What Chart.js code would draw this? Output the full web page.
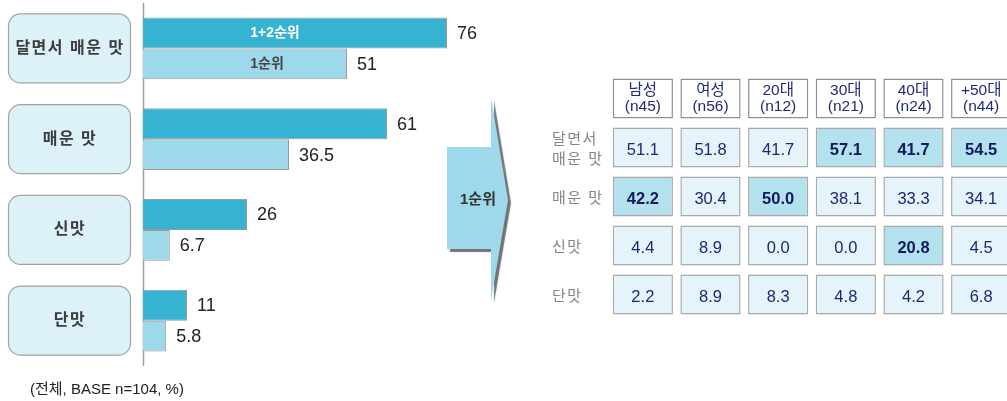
<!DOCTYPE html>
<html>
<head>
<meta charset="utf-8">
<script src="https://cdn.jsdelivr.net/npm/chart.js@4"></script>
<style>
  html, body { margin: 0; padding: 0; background: #fff; overflow: hidden; }
  #wrap { position: relative; width: 1007px; height: 401px; }
  #left { position: absolute; left: 0; top: 0; }
  #right { position: absolute; left: 520px; top: 0; }
</style>
</head>
<body>
<div id="wrap">
  <canvas id="left" width="540" height="401"></canvas>
  <canvas id="right" width="500" height="401"></canvas>
</div>
<script>
// left bar chart
const categories = ['달면서 매운 맛', '매운 맛', '신맛', '단맛'];
const rank12 = [76, 61, 26, 11];
const rank1 = [51, 36.5, 6.7, 5.8];
const seriesNames = ['1+2순위', '1순위'];
const footnote = '(전체, BASE n=104, %)';
const arrowLabel = '1순위';

// right table (1순위 by group)
const groups = ['남성', '여성', '20대', '30대', '40대', '+50대'];
const groupBase = ['(n45)', '(n56)', '(n12)', '(n21)', '(n24)', '(n44)'];
const rowLabels = [['달면서', '매운 맛'], ['매운 맛'], ['신맛'], ['단맛']];
const sweetSpicy = [51.1, 51.8, 41.7, 57.1, 41.7, 54.5];
const spicy = [42.2, 30.4, 50.0, 38.1, 33.3, 34.1];
const sour = [4.4, 8.9, 0.0, 0.0, 20.8, 4.5];
const sweet = [2.2, 8.9, 8.3, 4.8, 4.2, 6.8];
const highlighted = [
    [false, false, false, true, true, true],
    [true, false, true, false, false, false],
    [false, false, false, false, true, false],
    [false, false, false, false, false, false]
];

const FONT = '"Liberation Sans", "Noto Sans CJK KR", sans-serif';
const DARK = '#36b3d1';
const LIGHT = '#9dd9ea';

function roundRect(ctx, x, y, w, h, r) {
    ctx.beginPath();
    ctx.moveTo(x + r, y);
    ctx.arcTo(x + w, y, x + w, y + h, r);
    ctx.arcTo(x + w, y + h, x, y + h, r);
    ctx.arcTo(x, y + h, x, y, r);
    ctx.arcTo(x, y, x + w, y, r);
    ctx.closePath();
}

const leftDecor = {
    id: 'leftDecor',
    beforeDatasetsDraw(chart) {
        const ctx = chart.ctx;
        const y = chart.scales.y;
        const x = chart.scales.x;
        ctx.save();
        // category boxes
        categories.forEach((c, i) => {
            const cy = y.getPixelForValue(i);
            roundRect(ctx, 8.5, cy - 34.5, 122, 69, 12);
            ctx.fillStyle = '#dcf1f8';
            ctx.fill();
            ctx.strokeStyle = '#a3a3a3';
            ctx.lineWidth = 1.2;
            ctx.stroke();
            ctx.fillStyle = '#3c3c3c';
            ctx.font = 'bold 16px ' + FONT;
            ctx.letterSpacing = '1.5px';
            ctx.textAlign = 'center';
            ctx.textBaseline = 'middle';
            ctx.fillText(c, 70, cy);
        });
        ctx.letterSpacing = '0px';
        // axis line
        const x0 = Math.round(x.getPixelForValue(0)) + 0.5;
        ctx.strokeStyle = '#a0a0a0';
        ctx.lineWidth = 1.5;
        ctx.beginPath();
        ctx.moveTo(x0, chart.chartArea.top);
        ctx.lineTo(x0, chart.chartArea.bottom);
        ctx.stroke();
        ctx.restore();
    },
    afterDatasetsDraw(chart) {
        const ctx = chart.ctx;
        ctx.save();
        ctx.textBaseline = 'middle';
        chart.data.datasets.forEach((ds, di) => {
            const meta = chart.getDatasetMeta(di);
            meta.data.forEach((bar, i) => {
                ctx.fillStyle = '#222';
                ctx.font = '18px ' + FONT;
                ctx.textAlign = 'left';
                ctx.fillText(String(ds.data[i]), bar.x + 10, bar.y + 1);
            });
            // series name inside the first bar
            const first = meta.data[0];
            ctx.font = 'bold 14px ' + FONT;
            ctx.textAlign = 'center';
            ctx.fillStyle = di === 0 ? '#fff' : '#444';
            ctx.fillText(ds.label, chart.scales.x.getPixelForValue(di === 0 ? 33 : 31), first.y);
        });
        // footnote
        ctx.font = '15px ' + FONT;
        ctx.fillStyle = '#222';
        ctx.textAlign = 'left';
        ctx.fillText(footnote, 30, 390);
        // arrow
        ctx.shadowColor = 'rgba(90,90,90,0.85)';
        ctx.shadowOffsetX = 3;
        ctx.shadowOffsetY = 3;
        ctx.shadowBlur = 1;
        ctx.fillStyle = LIGHT;
        ctx.beginPath();
        ctx.moveTo(447, 147);
        ctx.lineTo(491, 147);
        ctx.lineTo(491, 97);
        ctx.lineTo(508, 200);
        ctx.lineTo(491, 300);
        ctx.lineTo(491, 249);
        ctx.lineTo(447, 249);
        ctx.closePath();
        ctx.fill();
        ctx.shadowColor = 'transparent';
        ctx.fillStyle = '#333';
        ctx.font = 'bold 15px ' + FONT;
        ctx.textAlign = 'center';
        ctx.fillText(arrowLabel, 478, 200);
        ctx.restore();
    }
};

new Chart(document.getElementById('left'), {
    type: 'bar',
    data: {
        labels: categories,
        datasets: [
            { label: seriesNames[0], data: rank12, backgroundColor: DARK },
            { label: seriesNames[1], data: rank1, backgroundColor: LIGHT }
        ]
    },
    options: {
        indexAxis: 'y',
        responsive: false,
        animation: false,
        layout: { padding: { left: 143, right: 37, top: 3, bottom: 35 } },
        datasets: {
            bar: {
                borderColor: '#9a9a9a',
                borderWidth: 1,
                borderSkipped: 'left',
                categoryPercentage: 0.68,
                barPercentage: 1.0
            }
        },
        scales: {
            x: { display: false, min: 0, max: 90 },
            y: { display: false }
        },
        plugins: { legend: { display: false }, tooltip: { enabled: false } }
    },
    plugins: [leftDecor]
});

// right table drawn as floating bars
const tableRows = [sweetSpicy, spicy, sour, sweet];
const HALF = 0.41;

const tableDatasets = [{
    label: 'header',
    data: groups.map(() => [-HALF, HALF]),
    backgroundColor: '#ffffff',
    borderColor: '#8f8f8f'
}];
tableRows.forEach((row, r) => {
    tableDatasets.push({
        label: rowLabels[r].join(' '),
        data: row.map(() => [r + 1 - HALF, r + 1 + HALF]),
        backgroundColor: row.map((v, c) => highlighted[r][c] ? '#b3e1ee' : '#e4f4fa'),
        borderColor: '#a9a9a9'
    });
});

const tableText = {
    id: 'tableText',
    afterDatasetsDraw(chart) {
        const ctx = chart.ctx;
        const y = chart.scales.y;
        ctx.save();
        ctx.textBaseline = 'middle';
        ctx.textAlign = 'center';
        chart.data.datasets.forEach((ds, di) => {
            const meta = chart.getDatasetMeta(di);
            meta.data.forEach((bar, c) => {
                const cy = (bar.y + bar.base) / 2;
                if (di === 0) {
                    ctx.fillStyle = '#1e2a78';
                    ctx.font = '15.5px ' + FONT;
                    ctx.fillText(groups[c], bar.x, cy - 8);
                    ctx.fillText(groupBase[c], bar.x, cy + 8);
                } else {
                    const r = di - 1;
                    const bold = highlighted[r][c];
                    ctx.fillStyle = bold ? '#121a5e' : '#1e2872';
                    ctx.font = (bold ? 'bold ' : '') + '16.5px ' + FONT;
                    ctx.fillText(tableRows[r][c].toFixed(1), bar.x, cy + 3);
                }
            });
        });
        // row labels
        ctx.textAlign = 'left';
        ctx.fillStyle = '#858585';
        ctx.font = '15px ' + FONT;
        ctx.letterSpacing = '1.5px';
        rowLabels.forEach((lines, r) => {
            const cy = y.getPixelForValue(r + 1) + 2;
            const n = lines.length;
            lines.forEach((t, k) => {
                ctx.fillText(t, 32, cy + (k - (n - 1) / 2) * 20);
            });
        });
        ctx.restore();
    }
};

new Chart(document.getElementById('right'), {
    type: 'bar',
    data: { labels: groups, datasets: tableDatasets },
    options: {
        responsive: false,
        animation: false,
        layout: { padding: { left: 89, right: 5, top: 74, bottom: 82 } },
        datasets: {
            bar: {
                grouped: false,
                borderWidth: 1.5,
                borderSkipped: false,
                categoryPercentage: 1.0,
                barPercentage: 0.89
            }
        },
        scales: {
            x: { display: false },
            y: { display: false, type: 'linear', reverse: true, min: -0.5, max: 4.5 }
        },
        plugins: { legend: { display: false }, tooltip: { enabled: false } }
    },
    plugins: [tableText]
});
</script>
</body>
</html>
